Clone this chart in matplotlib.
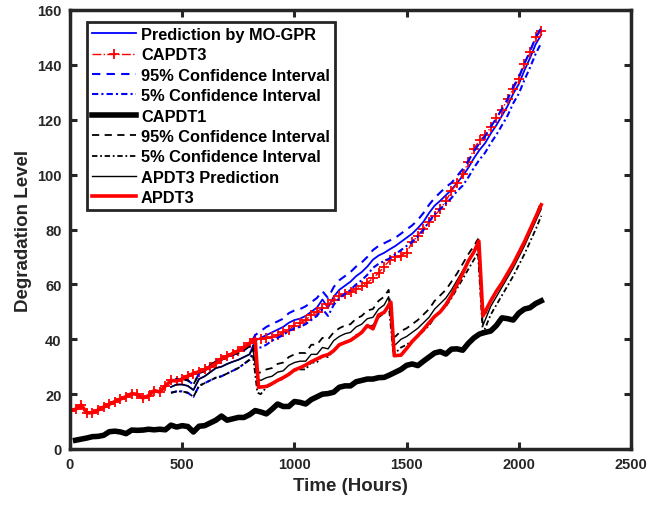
import numpy as np
import matplotlib
matplotlib.use("Agg")
import matplotlib.pyplot as plt

plt.rcParams['font.family'] = ['Liberation Sans', 'DejaVu Sans']
plt.rcParams['font.weight'] = 'bold'

# ---------------- data ----------------
# CAPDT3 measured (every 25 h, 0..2100)
t_capdt3 = np.arange(0, 2101, 25)
capdt3 = [14.0, 14.5, 16.0, 13.2, 13.2, 14.2, 15.3, 16.3, 17.3, 18.2,
          19.1, 20.2, 19.9, 18.6, 19.4, 21.3, 20.8, 23.0, 25.0, 24.8,
          25.5, 26.6, 27.5, 28.2, 29.0, 29.9, 31.2, 32.9, 33.8, 34.8,
          35.8, 37.0, 38.5, 40.2, 40.0, 40.3, 40.8, 41.5, 42.5, 43.5,
          45.0, 46.0, 47.0, 48.8, 50.0, 51.4, 52.7, 54.2, 55.7, 56.6,
          57.4, 58.2, 59.4, 60.6, 62.2, 64.2, 66.5, 68.8, 70.0, 70.5,
          71.6, 75.3, 77.8, 80.3, 82.6, 85.0, 87.4, 90.4, 94.0, 96.8,
          100.2, 104.5, 109.5, 112.5, 114.3, 117.3, 120.5, 123.6, 127.6, 131.2,
          135.0, 140.5, 144.6, 150.0, 152.5]

# MO-GPR prediction for CAPDT3 and its confidence bounds (450..2100 every 25 h)
t_gpr = np.arange(450, 2101, 25)
gpr_pred = [22.6, 23.5, 23.5, 23.0, 21.5, 25.5, 26.5, 28.0, 29.5, 30.0,
            31.0, 31.8, 32.5, 33.5, 34.5, 39.5, 40.5, 41.5, 42.5, 43.5,
            44.5, 46.0, 47.0, 47.5, 48.5, 50.0, 51.5, 54.5, 51.5, 55.5,
            58.0, 59.5, 61.0, 63.0, 64.5, 66.5, 69.0, 70.5, 71.5, 72.8,
            74.0, 75.5, 77.0, 78.5, 80.5, 82.8, 86.0, 88.7, 90.5, 92.5,
            94.5, 97.0, 99.5, 102.5, 106.0, 109.0, 111.5, 115.0, 118.0, 121.5,
            125.0, 129.5, 133.0, 138.0, 142.5, 147.5, 151.0]
gpr_hi = [24.5, 25.5, 25.5, 25.0, 23.5, 27.5, 28.5, 30.5, 32.0, 32.5,
          33.5, 34.3, 35.0, 36.0, 37.5, 41.5, 43.0, 44.5, 45.5, 46.5,
          47.5, 49.5, 50.5, 51.0, 52.0, 53.5, 55.0, 57.5, 55.0, 59.0,
          61.5, 63.0, 64.5, 66.5, 68.0, 70.0, 72.5, 74.0, 75.0, 76.0,
          77.0, 78.5, 80.0, 81.5, 83.5, 86.0, 89.0, 91.5, 93.5, 95.5,
          97.0, 99.5, 102.0, 105.0, 108.5, 111.5, 114.0, 117.5, 120.5, 124.0,
          127.5, 132.0, 135.5, 140.5, 145.0, 150.0, 153.5]
gpr_lo = [20.5, 21.0, 21.0, 20.5, 19.0, 23.0, 24.0, 25.0, 26.0, 26.5,
          27.5, 28.5, 29.5, 31.0, 32.5, 37.0, 37.0, 38.0, 39.5, 40.5,
          41.5, 43.0, 44.0, 44.5, 45.5, 47.0, 48.5, 51.0, 48.5, 52.5,
          55.0, 56.5, 58.0, 60.0, 61.5, 63.5, 66.0, 67.5, 68.5, 69.5,
          71.0, 72.5, 74.0, 75.5, 77.5, 79.8, 83.0, 85.5, 87.5, 89.5,
          91.5, 94.0, 96.0, 99.0, 102.5, 105.5, 108.0, 111.5, 114.5, 118.0,
          121.5, 126.0, 129.5, 134.5, 139.0, 144.0, 148.0]

# CAPDT1 measured (25..2100 every 25 h)
t_capdt1 = np.arange(25, 2101, 25)
capdt1 = [3.2, 3.6, 4.0, 4.5, 4.6, 5.0, 6.3, 6.5, 6.2, 5.6,
          6.9, 6.8, 6.9, 7.2, 7.0, 7.2, 7.0, 8.7, 8.0, 8.5,
          8.2, 6.2, 8.3, 8.5, 9.5, 10.5, 12.0, 10.5, 11.0, 11.5,
          11.5, 12.5, 14.0, 13.5, 12.8, 14.5, 16.4, 15.5, 15.5, 17.3,
          17.0, 16.4, 18.0, 19.0, 20.0, 20.2, 20.7, 22.5, 23.0, 23.0,
          24.5, 25.0, 25.5, 25.5, 26.0, 26.1, 27.0, 28.0, 29.0, 30.5,
          31.0, 30.4, 32.0, 33.5, 35.0, 35.5, 34.6, 36.4, 36.5, 36.0,
          38.5, 40.5, 41.9, 42.5, 43.0, 45.0, 47.8, 47.5, 47.0, 49.5,
          51.0, 51.5, 53.0, 54.0]

# APDT3 prediction and its confidence bounds
t_apdt3_pred = [450, 475, 500, 525, 550, 575, 600, 625, 650, 675, 700, 725, 750, 775, 800,
                815, 835, 850, 875, 900, 925, 950, 975, 1000, 1025, 1050, 1075, 1100, 1125,
                1150, 1175, 1200, 1225, 1250, 1275, 1300, 1325, 1350, 1375, 1400, 1420,
                1440, 1450, 1475, 1500, 1525, 1550, 1575, 1600, 1625, 1650, 1675, 1700,
                1725, 1750, 1775, 1800, 1818, 1840, 1850, 1875, 1900, 1925, 1950, 1975,
                2000, 2025, 2050, 2075, 2100]
apdt3_pred = [22.6, 23.5, 23.5, 23.0, 21.5, 25.5, 26.5, 28.0, 29.5, 30.0, 31.0, 31.8, 32.5, 33.5, 34.5,
              36.5, 25.5, 25.0, 26.0, 26.5, 28.0, 28.5, 30.5, 31.5, 32.0, 32.0, 34.5, 34.5, 37.0,
              36.5, 39.5, 41.0, 42.0, 42.5, 44.5, 45.5, 47.5, 48.0, 51.0, 52.5, 55.5,
              38.5, 38.0, 40.0, 41.0, 42.5, 44.0, 46.0, 48.0, 51.0, 53.0, 55.0, 58.0,
              61.5, 65.0, 68.5, 71.5, 74.0, 45.0, 47.0, 52.0, 55.5, 59.0, 62.5, 66.0,
              70.0, 74.0, 78.5, 83.0, 87.5]
apdt3_hi = [24.5, 25.5, 25.5, 25.0, 23.5, 27.5, 28.5, 30.5, 32.0, 32.5, 33.5, 34.3, 35.0, 36.0, 37.5,
            38.5, 27.5, 28.0, 29.0, 29.5, 31.0, 31.5, 33.5, 34.5, 35.0, 35.0, 38.0, 38.0, 40.5,
            40.0, 42.5, 44.0, 45.0, 45.5, 47.5, 48.5, 50.5, 51.0, 54.0, 55.5, 58.0,
            41.0, 41.0, 43.0, 44.0, 45.5, 47.0, 49.0, 51.0, 54.0, 56.0, 58.0, 61.0,
            64.0, 67.5, 71.0, 74.0, 76.5, 48.0, 49.0, 54.0, 57.5, 60.5, 64.0, 67.5,
            71.5, 75.5, 80.0, 84.5, 90.5]
apdt3_lo = [20.5, 21.0, 21.0, 20.5, 19.0, 23.0, 24.0, 25.0, 26.0, 26.5, 27.5, 28.5, 29.5, 31.0, 32.5,
            34.5, 20.5, 20.0, 22.5, 23.5, 25.0, 25.5, 27.5, 28.5, 29.0, 29.0, 31.5, 31.5, 34.0,
            33.5, 36.0, 38.0, 39.0, 39.5, 41.5, 42.5, 44.5, 45.0, 48.0, 49.5, 53.0,
            35.5, 35.0, 37.0, 38.0, 39.5, 41.0, 43.0, 45.0, 48.0, 50.0, 52.0, 55.0,
            58.5, 62.0, 65.5, 69.0, 71.5, 42.0, 44.0, 49.0, 52.5, 56.0, 59.5, 63.0,
            67.0, 71.0, 75.5, 80.0, 85.0]

# APDT3 measured: follows CAPDT3 up to 825 h, then these values
t_apdt3_after = [840, 875, 900, 925, 950, 975, 1000, 1025, 1050, 1075, 1100, 1125, 1150,
                 1175, 1200, 1225, 1250, 1275, 1300, 1325, 1350, 1375, 1400, 1430,
                 1445, 1475, 1500, 1525, 1550, 1575, 1600, 1625, 1650, 1675, 1700,
                 1725, 1750, 1775, 1800, 1822, 1840, 1875, 1900, 1925, 1950, 1975,
                 2000, 2025, 2050, 2075, 2100]
apdt3_after = [22.5, 22.8, 23.8, 25.0, 26.0, 27.2, 28.8, 29.6, 30.6, 31.8, 32.8, 33.8, 34.4,
               35.8, 38.0, 38.8, 39.6, 41.0, 42.5, 45.0, 43.8, 48.8, 49.8, 53.5,
               34.0, 34.2, 36.6, 39.2, 41.3, 43.5, 46.0, 48.3, 50.0, 52.6, 56.0,
               60.0, 64.0, 68.5, 71.8, 75.8, 48.5, 54.0, 57.5, 60.5, 64.0, 67.5,
               71.5, 75.5, 80.0, 84.5, 89.0]

n_shared = 34  # CAPDT3 points 0..825 h shared with APDT3
t_apdt3 = np.concatenate([t_capdt3[:n_shared], t_apdt3_after])
apdt3 = np.concatenate([np.array(capdt3[:n_shared]), apdt3_after])

labels = ["Prediction by MO-GPR", "CAPDT3", "95% Confidence Interval",
          "5% Confidence Interval", "CAPDT1", "95% Confidence Interval",
          "5% Confidence Interval", "APDT3 Prediction", "APDT3"]

# ---------------- plot ----------------
W, H = 661, 506
fig = plt.figure(figsize=(W / 100, H / 100), dpi=100)
ax = fig.add_axes([70 / W, 1 - 450 / H, (631 - 70) / W, (450 - 11) / H])

blue = '#0000FF'
red = '#FF0000'

ax.plot(t_gpr, gpr_pred, color=blue, lw=1.3, label=labels[0])
ax.plot(t_capdt3, capdt3, color=red, lw=1.0, ls='-.', marker='+', ms=7.5, mew=1.3,
        label=labels[1])
ax.plot(t_gpr, gpr_hi, color=blue, lw=1.5, ls=(0, (4, 3)), label=labels[2])
ax.plot(t_gpr, gpr_lo, color=blue, lw=1.5, ls=(0, (3, 1.5, 1, 1.5)), label=labels[3])
ax.plot(t_capdt1, capdt1, color='black', lw=4, label=labels[4])
ax.plot(t_apdt3_pred, apdt3_hi, color='black', lw=1.3, ls=(0, (4, 3)), label=labels[5])
ax.plot(t_apdt3_pred, apdt3_lo, color='black', lw=1.3, ls=(0, (3, 1.5, 1, 1.5)), label=labels[6])
ax.plot(t_apdt3_pred, apdt3_pred, color='black', lw=1.0, label=labels[7])
ax.plot(t_apdt3, apdt3, color=red, lw=2.6, label=labels[8])

ax.set_xlim(0, 2500)
ax.set_ylim(0, 160)
ax.set_xticks(np.arange(0, 2501, 500))
ax.set_yticks(np.arange(0, 161, 20))

dark = '#262626'
for s in ax.spines.values():
    s.set_linewidth(2.5)
    s.set_color(dark)
ax.tick_params(direction='in', length=5, width=2.2, colors=dark, labelsize=10.5,
               top=True, right=True, pad=6)
for lab in ax.get_xticklabels() + ax.get_yticklabels():
    lab.set_fontweight('bold')
    lab.set_color(dark)

ax.set_xlabel("Time (Hours)", fontsize=13.5, fontweight='bold', color=dark, labelpad=4)
ax.set_ylabel("Degradation Level", fontsize=13.5, fontweight='bold', color=dark, labelpad=4)

leg = ax.legend(loc='upper left', bbox_to_anchor=(17 / 561, 1 - 12 / 439),
                prop={'weight': 'bold', 'size': 11.8},
                handlelength=2.7, handletextpad=0.3, labelspacing=0.33,
                borderpad=0.3, borderaxespad=0, fancybox=False, framealpha=1)
leg.get_frame().set_edgecolor(dark)
leg.get_frame().set_linewidth(2.0)

fig.savefig("out.png", dpi=100)
